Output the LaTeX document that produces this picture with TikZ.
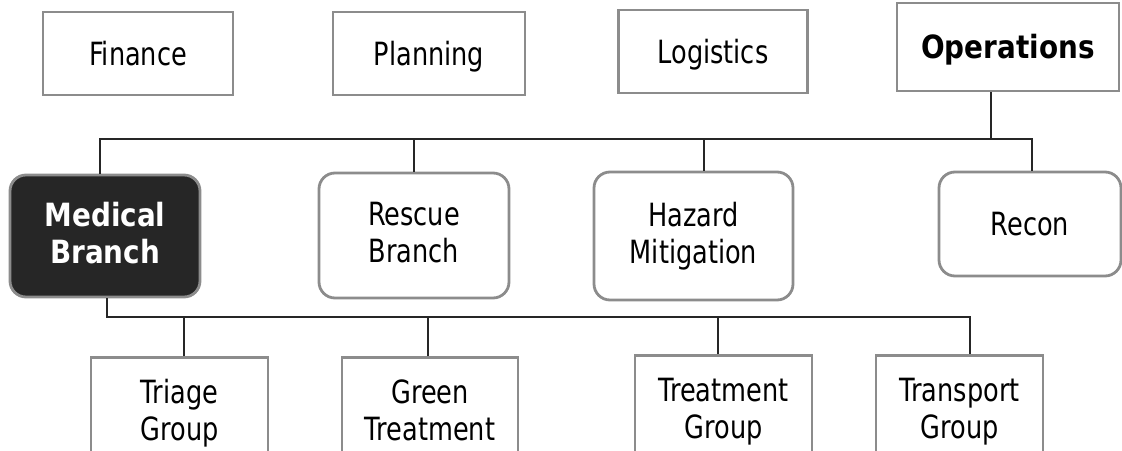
\documentclass[tikz,border=0pt]{standalone}
\usepackage{fontspec}
\setmainfont{DejaVu Sans}[FakeStretch=0.8, BoldFeatures={FakeStretch=0.87}]
% struts that centre the capitals of a label in its box
\newcommand{\topstrut}{\rule{0pt}{30pt}}
\newcommand{\botstrut}{\rule[-6.7pt]{0pt}{6.7pt}}
\begin{document}
\begin{tikzpicture}[x=1pt,y=-1pt,
  box/.style={draw=black!45, line width=2.8pt, fill=white, align=center,
    inner sep=0pt, font=\fontsize{32}{37}\selectfont,
    execute at begin node=\topstrut, execute at end node=\botstrut},
  unit/.style={box, rounded corners=16pt},
  lead/.style={unit, fill=black!85, text=white, font=\fontsize{32}{37}\selectfont\bfseries},
  link/.style={draw=black!85, line width=1.4pt}]
\useasboundingbox (0,0) rectangle (1122,450);
\clip (0,0) rectangle (1122,450);

% bus lines of the two tree levels
\coordinate (busA) at (0,139);
\coordinate (busB) at (0,317);

% general staff
\node[box, minimum width=190pt, minimum height=83pt] (fin) at (138,53.5) {Finance};
\node[box, minimum width=192pt, minimum height=83pt] (plan) at (429,53.5) {Planning};
\node[box, minimum width=189pt, minimum height=83pt] (log) at (713,51.5) {Logistics};
\node[box, minimum width=222pt, minimum height=88pt] (ops) at (1008,47) {\bfseries Operations};

% branches under operations
\node[lead, minimum width=190pt, minimum height=122pt] (med) at (105,236) {Medical\\Branch};
\node[unit, minimum width=190pt, minimum height=125pt] (res) at (414,235.5) {Rescue\\Branch};
\node[unit, minimum width=199pt, minimum height=128pt] (haz) at (693.5,236) {Hazard\\Mitigation};
\node[unit, minimum width=182pt, minimum height=104pt] (rec) at (1030,224) {Recon};

% groups under the medical branch
\node[box, anchor=north, minimum width=177pt, minimum height=112pt] (tri) at (179.5,356) {Triage\\Group};
\node[box, anchor=north, minimum width=176pt, minimum height=112pt] (grn) at (430,356) {Green\\Treatment};
\node[box, anchor=north, minimum width=177pt, minimum height=112pt] (trt) at (723.5,354) {Treatment\\Group};
\node[box, anchor=north, minimum width=167pt, minimum height=112pt] (trn) at (959.5,354) {Transport\\Group};

% operations to branches
\draw[link] ([xshift=-17pt]ops.south) -- ([xshift=-17pt]ops.south |- busA);
\draw[link] ([xshift=-5pt]med.north) -- ([xshift=-5pt]med.north |- busA) -| ([xshift=2pt]rec.north);
\draw[link] (res.north) -- (res.north |- busA);
\draw[link] ([xshift=10.5pt]haz.north) -- ([xshift=10.5pt]haz.north |- busA);

% medical branch to groups
\draw[link] ([xshift=2pt]med.south) -- ([xshift=2pt]med.south |- busB) -| ([xshift=10.5pt]trn.north);
\draw[link] ([xshift=4.5pt]tri.north) -- ([xshift=4.5pt]tri.north |- busB);
\draw[link] ([xshift=-2pt]grn.north) -- ([xshift=-2pt]grn.north |- busB);
\draw[link] ([xshift=-5.5pt]trt.north) -- ([xshift=-5.5pt]trt.north |- busB);
\end{tikzpicture}
\end{document}
